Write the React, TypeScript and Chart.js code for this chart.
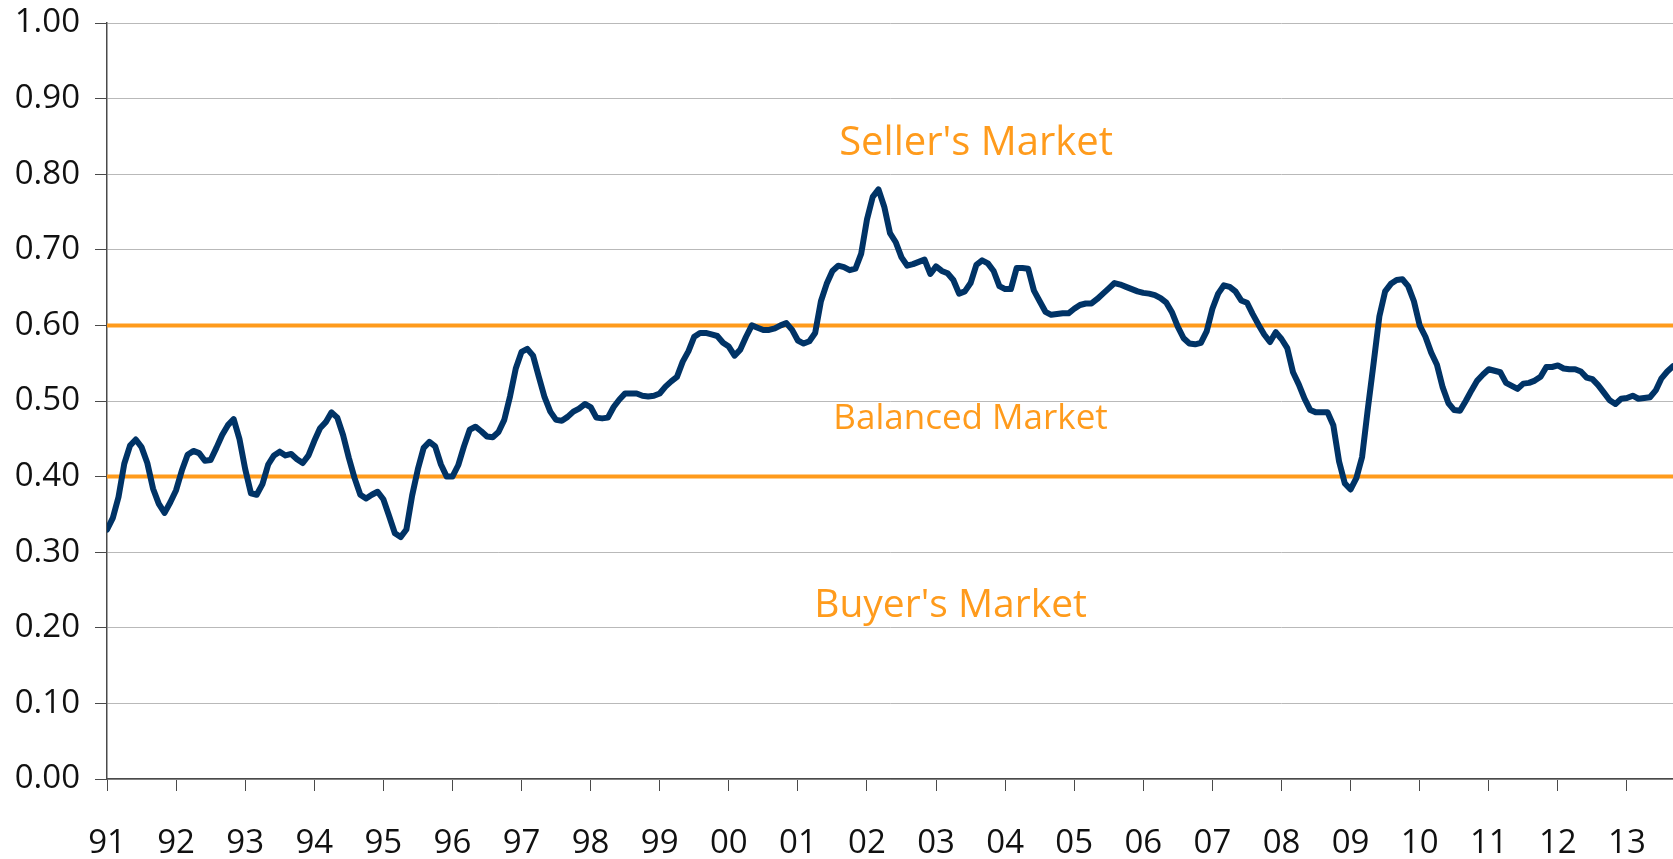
import React, { useEffect, useRef } from "react";
import Chart from "chart.js/auto";

// Monthly ratio, Jan 1991 .. Sep 2013
const START_YEAR = 1991;
const ratio1991 = [0.33, 0.345, 0.373, 0.417, 0.441, 0.449, 0.439, 0.418, 0.384, 0.364, 0.352, 0.366];
const ratio1992 = [0.382, 0.408, 0.429, 0.434, 0.431, 0.421, 0.422, 0.438, 0.455, 0.468, 0.476, 0.45];
const ratio1993 = [0.41, 0.378, 0.376, 0.39, 0.416, 0.428, 0.433, 0.428, 0.43, 0.423, 0.418, 0.428];
const ratio1994 = [0.447, 0.464, 0.472, 0.485, 0.478, 0.455, 0.425, 0.398, 0.376, 0.371, 0.376, 0.38];
const ratio1995 = [0.37, 0.348, 0.325, 0.32, 0.33, 0.375, 0.41, 0.438, 0.446, 0.44, 0.416, 0.4];
const ratio1996 = [0.4, 0.415, 0.44, 0.462, 0.466, 0.46, 0.453, 0.452, 0.459, 0.475, 0.506, 0.543];
const ratio1997 = [0.565, 0.569, 0.56, 0.532, 0.505, 0.486, 0.475, 0.474, 0.479, 0.486, 0.49, 0.496];
const ratio1998 = [0.492, 0.478, 0.477, 0.478, 0.492, 0.502, 0.51, 0.51, 0.51, 0.507, 0.506, 0.507];
const ratio1999 = [0.51, 0.519, 0.526, 0.532, 0.552, 0.566, 0.585, 0.59, 0.59, 0.588, 0.586, 0.577];
const ratio2000 = [0.572, 0.56, 0.568, 0.585, 0.6, 0.597, 0.594, 0.594, 0.596, 0.6, 0.603, 0.594];
const ratio2001 = [0.58, 0.576, 0.579, 0.59, 0.632, 0.655, 0.672, 0.679, 0.677, 0.673, 0.675, 0.695];
const ratio2002 = [0.74, 0.77, 0.78, 0.757, 0.722, 0.71, 0.69, 0.679, 0.681, 0.684, 0.687, 0.668];
const ratio2003 = [0.678, 0.672, 0.669, 0.66, 0.642, 0.645, 0.656, 0.68, 0.686, 0.682, 0.672, 0.652];
const ratio2004 = [0.648, 0.648, 0.676, 0.676, 0.675, 0.646, 0.632, 0.618, 0.614, 0.615, 0.616, 0.616];
const ratio2005 = [0.622, 0.627, 0.629, 0.629, 0.635, 0.642, 0.649, 0.656, 0.654, 0.651, 0.648, 0.645];
const ratio2006 = [0.643, 0.642, 0.64, 0.636, 0.63, 0.617, 0.598, 0.583, 0.576, 0.575, 0.577, 0.592];
const ratio2007 = [0.622, 0.642, 0.653, 0.651, 0.645, 0.633, 0.63, 0.615, 0.601, 0.588, 0.578, 0.591];
const ratio2008 = [0.582, 0.57, 0.538, 0.522, 0.503, 0.488, 0.485, 0.485, 0.485, 0.468, 0.42, 0.391];
const ratio2009 = [0.383, 0.398, 0.426, 0.49, 0.55, 0.612, 0.645, 0.655, 0.66, 0.661, 0.652, 0.632];
const ratio2010 = [0.6, 0.585, 0.564, 0.548, 0.518, 0.497, 0.488, 0.487, 0.5, 0.514, 0.527, 0.535];
const ratio2011 = [0.542, 0.54, 0.538, 0.524, 0.52, 0.516, 0.523, 0.524, 0.527, 0.532, 0.545, 0.545];
const ratio2012 = [0.547, 0.543, 0.542, 0.542, 0.539, 0.531, 0.529, 0.521, 0.511, 0.501, 0.496, 0.503];
const ratio2013 = [0.504, 0.507, 0.503, 0.504, 0.505, 0.514, 0.53, 0.539, 0.546];

const ratioValues = [
  ...ratio1991, ...ratio1992, ...ratio1993, ...ratio1994, ...ratio1995, ...ratio1996,
  ...ratio1997, ...ratio1998, ...ratio1999, ...ratio2000, ...ratio2001, ...ratio2002,
  ...ratio2003, ...ratio2004, ...ratio2005, ...ratio2006, ...ratio2007, ...ratio2008,
  ...ratio2009, ...ratio2010, ...ratio2011, ...ratio2012, ...ratio2013,
];

const yearTickLabels = [
  "91", "92", "93", "94", "95", "96", "97", "98", "99", "00", "01", "02",
  "03", "04", "05", "06", "07", "08", "09", "10", "11", "12", "13",
];

const thresholdValues = [0.6, 0.4];

const regionLabels = ["Seller's Market", "Balanced Market", "Buyer's Market"];
// anchor of each label (center x in years, baseline y in ratio units)
const regionAnchorX = [2003.58, 2003.5, 2003.21];
const regionAnchorY = [0.8254, 0.463, 0.214];
const regionFontSizes = [40, 35, 39];

const NAVY = "#003366";
const ORANGE = "#ff9b1c";
const GRID = "#b9b9b9";
const AXIS = "#4a4a4a";
const FONT = '"Open Sans", "DejaVu Sans", sans-serif';

export default function App() {
  const ref = useRef<HTMLCanvasElement>(null);

  useEffect(() => {
    document.body.style.margin = "0";
    const canvas = ref.current;
    if (!canvas) return;
    const points = ratioValues.map((v, i) => ({ x: START_YEAR + i / 12, y: v }));
    const xMax = START_YEAR + (ratioValues.length - 1) / 12;

    const labelPlugin = {
      id: "regionLabels",
      afterDatasetsDraw(chart: any) {
        const { ctx, scales } = chart;
        ctx.save();
        ctx.fillStyle = ORANGE;
        ctx.textAlign = "center";
        ctx.textBaseline = "alphabetic";
        regionLabels.forEach((t, i) => {
          ctx.font = `${regionFontSizes[i]}px ${FONT}`;
          ctx.fillText(
            t,
            scales.x.getPixelForValue(regionAnchorX[i]),
            scales.y.getPixelForValue(regionAnchorY[i])
          );
        });
        ctx.restore();
      },
    };

    const chart = new Chart(canvas, {
      type: "line",
      data: {
        datasets: [
          {
            data: points,
            borderColor: NAVY,
            borderWidth: 6,
            pointRadius: 0,
            tension: 0,
            order: 0,
            borderJoinStyle: "round",
            borderCapStyle: "round",
          } as any,
          ...thresholdValues.map((t) => ({
            data: [
              { x: START_YEAR, y: t },
              { x: xMax, y: t },
            ],
            borderColor: ORANGE,
            borderWidth: 4,
            pointRadius: 0,
            order: 1,
          })),
        ],
      },
      options: {
        animation: false,
        responsive: false,
        maintainAspectRatio: false,
        layout: { padding: { top: 23, right: 0, left: 0, bottom: 0 } },
        plugins: { legend: { display: false }, tooltip: { enabled: false } },
        scales: {
          x: {
            type: "linear",
            min: START_YEAR,
            max: xMax,
            ticks: {
              stepSize: 1,
              includeBounds: false,
              autoSkip: false,
              maxRotation: 0,
              minRotation: 0,
              padding: 33,
              color: "#111",
              font: { family: FONT, size: 33 },
              callback: (v: any) => yearTickLabels[Math.round(Number(v) - START_YEAR)] ?? "",
            },
            grid: { drawOnChartArea: false, drawTicks: true, tickLength: 12, tickColor: AXIS },
            border: { color: AXIS, width: 1.5 },
            afterFit: (s: any) => {
              s.height = 80;
              s.paddingLeft = 0;
              s.paddingRight = 0;
            },
          },
          y: {
            min: 0,
            max: 1,
            ticks: {
              stepSize: 0.1,
              padding: 15,
              color: "#111",
              font: { family: FONT, size: 33 },
              callback: (v: any) => Number(v).toFixed(2),
            },
            grid: { color: GRID, lineWidth: 1, tickLength: 12, tickColor: AXIS },
            border: { color: AXIS, width: 1.5 },
            afterFit: (s: any) => {
              s.width = 107;
              s.paddingTop = 0;
              s.paddingBottom = 0;
            },
          },
        },
      } as any,
      plugins: [labelPlugin],
    });
    return () => chart.destroy();
  }, []);

  return (
    <div style={{ position: "absolute", left: 0, top: 0, width: 1673, height: 859 }}>
      <canvas ref={ref} width={1673} height={859} style={{ display: "block", width: 1673, height: 859 }} />
    </div>
  );
}
